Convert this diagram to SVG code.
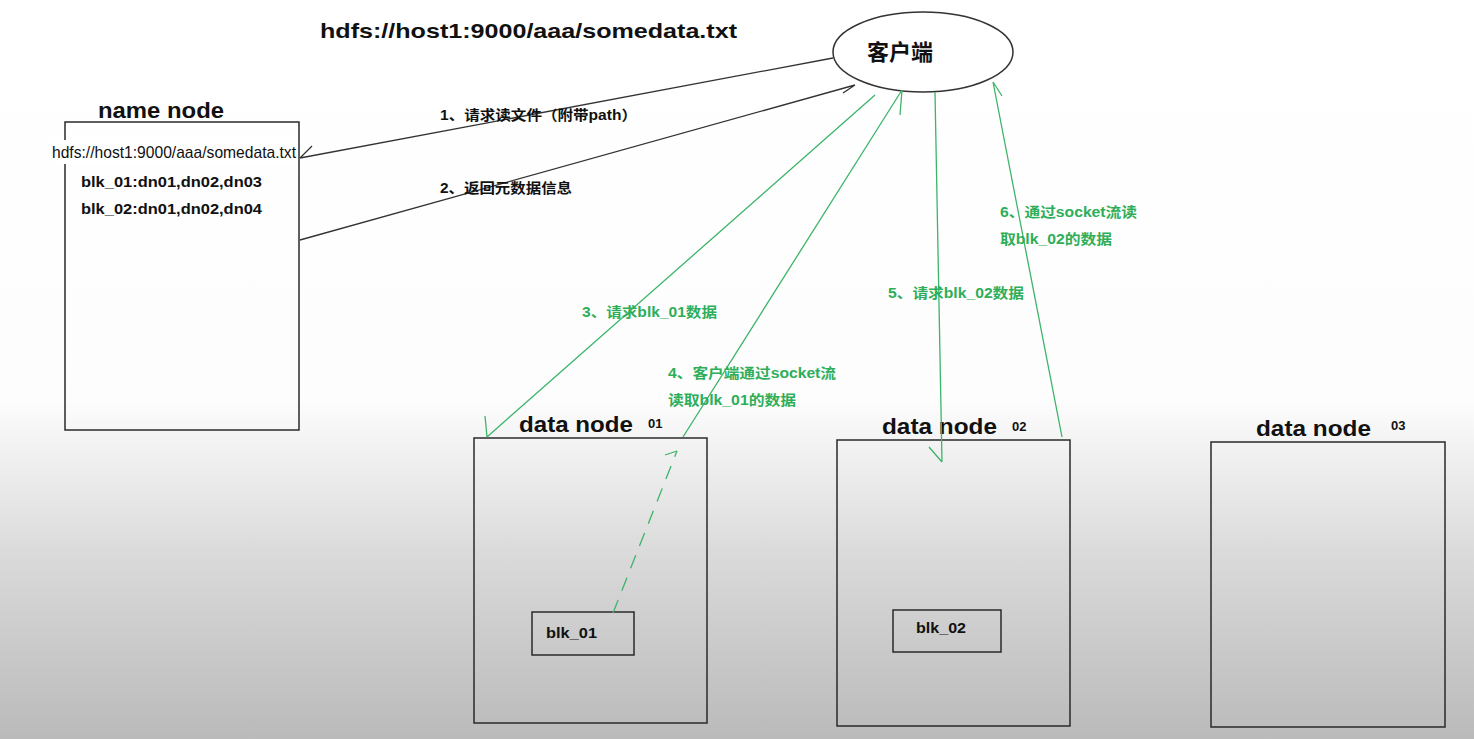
<svg xmlns="http://www.w3.org/2000/svg" width="1474" height="739" viewBox="0 0 1474 739">
<defs>
<linearGradient id="bg" x1="0" y1="0" x2="0" y2="1">
<stop offset="0" stop-color="#ffffff"/>
<stop offset="0.54" stop-color="#fdfdfd"/>
<stop offset="0.75" stop-color="#dadada"/>
<stop offset="1" stop-color="#bababa"/>
</linearGradient>
<style>
.box{fill:none;stroke:#2a2a2a;stroke-width:1.5}
.t{font-family:"Liberation Sans","Noto Sans CJK SC",sans-serif;font-weight:bold;fill:#111}
.big{font-size:22px}
.sm{font-size:14px}
.g{font-family:"Liberation Sans","Noto Sans CJK SC",sans-serif;font-weight:bold;font-size:14px;fill:#2fae5a}
.k{stroke:#333;stroke-width:1.3;fill:none}
.gl{stroke:#3cb46a;stroke-width:1.3;fill:none}
</style>
</defs>
<rect x="0" y="0" width="1474" height="739" fill="url(#bg)"/>

<text class="t" x="320" y="38" font-size="21" textLength="417" lengthAdjust="spacingAndGlyphs">hdfs://host1:9000/aaa/somedata.txt</text>

<g id="client">
<ellipse cx="923" cy="52" rx="90" ry="40" fill="#fff" stroke="#333" stroke-width="1.5"/>
<text class="t" x="900" y="60" font-size="22" text-anchor="middle">客户端</text>
</g>

<g id="namenode">
<text class="t big" x="98" y="118" textLength="126" lengthAdjust="spacingAndGlyphs">name node</text>
<rect class="box" x="65" y="122" width="234" height="308" fill="#fff"/>
<rect x="52" y="140" width="245" height="24" fill="#fff"/>
<text x="52" y="158" font-family="'Liberation Sans Narrow','Liberation Sans',sans-serif" font-size="17" fill="#111" textLength="244" lengthAdjust="spacingAndGlyphs">hdfs://host1:9000/aaa/somedata.txt</text>
<text class="t" x="81" y="187" font-size="14" textLength="181" lengthAdjust="spacingAndGlyphs">blk_01:dn01,dn02,dn03</text>
<text class="t" x="81" y="214" font-size="14" textLength="181" lengthAdjust="spacingAndGlyphs">blk_02:dn01,dn02,dn04</text>
</g>

<g id="datanode01">
<rect class="box" x="474" y="438" width="233" height="285"/>
<text class="t big" x="519" y="432" textLength="114" lengthAdjust="spacingAndGlyphs">data node</text>
<text class="t" font-size="13" x="648" y="428">01</text>
</g>
<g id="blk01">
<rect class="box" x="532" y="612" width="102" height="43"/>
<text class="t sm" x="546" y="638" textLength="51" lengthAdjust="spacingAndGlyphs">blk_01</text>
</g>

<g id="datanode02">
<rect class="box" x="837" y="440" width="233" height="286"/>
<text class="t big" x="882" y="434" textLength="115" lengthAdjust="spacingAndGlyphs">data node</text>
<text class="t" font-size="13" x="1012" y="431">02</text>
</g>
<g id="blk02">
<rect class="box" x="893" y="610" width="108" height="42"/>
<text class="t sm" x="916" y="633" textLength="50" lengthAdjust="spacingAndGlyphs">blk_02</text>
</g>

<g id="datanode03">
<rect class="box" x="1211" y="442" width="234" height="285"/>
<text class="t big" x="1256" y="436" textLength="115" lengthAdjust="spacingAndGlyphs">data node</text>
<text class="t" font-size="13" x="1391" y="430">03</text>
</g>

<g id="connectors">
<path class="k" d="M833 58 L300 158 M300 158 L312 146"/>
<path class="k" d="M300 240 L855 85 M855 85 L843 93"/>
<path class="gl" d="M875 95 L487 437 M487 437 L485 416"/>
<path class="gl" d="M683 437 L902 90 M902 90 L900 115"/>
<path class="gl" d="M613 613 L677 451" stroke-dasharray="14 10"/>
<path class="gl" d="M677 451 L665 455"/>
<path class="gl" d="M935 92 L942 462 M942 462 L929 447"/>
<path class="gl" d="M1062 437 L993 82 M993 82 L1002 96"/>
</g>

<g id="labels">
<text class="t sm" x="440" y="120" textLength="197" lengthAdjust="spacingAndGlyphs">1、请求读文件（附带path）</text>
<text class="t sm" x="440" y="193" textLength="132" lengthAdjust="spacingAndGlyphs">2、返回元数据信息</text>
<text class="g" x="582" y="317" textLength="135" lengthAdjust="spacingAndGlyphs">3、请求blk_01数据</text>
<text class="g" x="668" y="378" textLength="168" lengthAdjust="spacingAndGlyphs">4、客户端通过socket流</text>
<text class="g" x="668" y="405" textLength="128" lengthAdjust="spacingAndGlyphs">读取blk_01的数据</text>
<text class="g" x="888" y="298" textLength="136" lengthAdjust="spacingAndGlyphs">5、请求blk_02数据</text>
<text class="g" x="1000" y="217" textLength="137" lengthAdjust="spacingAndGlyphs">6、通过socket流读</text>
<text class="g" x="1000" y="244" textLength="112" lengthAdjust="spacingAndGlyphs">取blk_02的数据</text>
</g>
</svg>
